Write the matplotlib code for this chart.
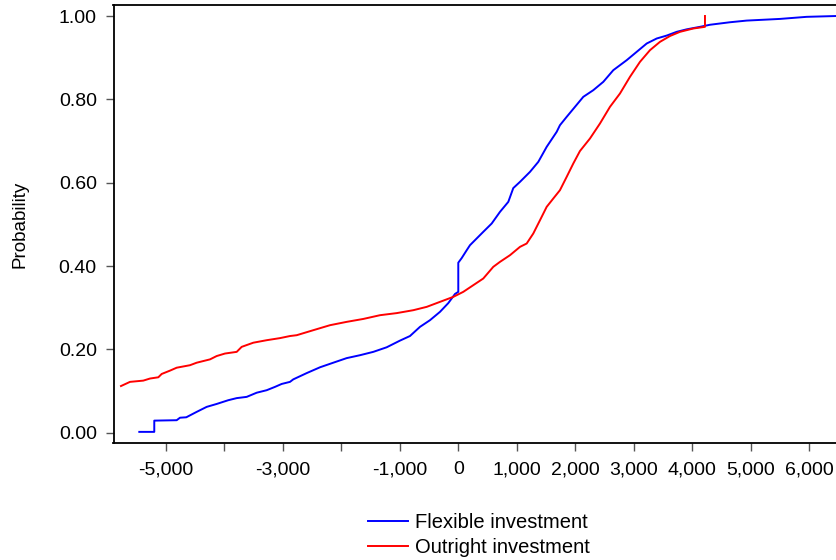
import matplotlib
matplotlib.use("Agg")
import matplotlib.pyplot as plt
from matplotlib.ticker import FixedLocator, FixedFormatter

plt.rcParams['font.family'] = ['Liberation Sans', 'DejaVu Sans']

# Empirical CDF of the investment outcome, flexible strategy
flex_x = [-5453, -5197, -5197, -4814, -4757, -4650, -4472, -4301, -4130, -3932,
          -3788, -3617, -3446, -3275, -3133, -3019, -2877, -2821, -2592, -2364,
          -2137, -1908, -1680, -1453, -1224, -997, -826, -655, -484, -313,
          -171, -56, 0, 0, 58, 144, 200, 285, 427, 571,
          713, 855, 940, 1055, 1226, 1368, 1511, 1682, 1738, 1853,
          1995, 2137, 2308, 2479, 2650, 2879, 3050, 3221, 3392, 3562,
          3733, 3904, 4132, 4303, 4644, 4930, 5499, 5955, 6468]
flex_p = [0.002, 0.002, 0.029, 0.030, 0.036, 0.037, 0.050, 0.062, 0.069, 0.078,
          0.083, 0.086, 0.096, 0.102, 0.110, 0.117, 0.122, 0.128, 0.143, 0.157,
          0.168, 0.179, 0.186, 0.194, 0.205, 0.221, 0.232, 0.254, 0.270, 0.290,
          0.311, 0.333, 0.338, 0.408, 0.419, 0.438, 0.450, 0.462, 0.482, 0.502,
          0.530, 0.554, 0.587, 0.602, 0.626, 0.650, 0.686, 0.722, 0.738, 0.758,
          0.782, 0.806, 0.822, 0.842, 0.870, 0.894, 0.914, 0.934, 0.946, 0.953,
          0.962, 0.968, 0.974, 0.979, 0.985, 0.989, 0.993, 0.998, 1.000]

# Empirical CDF of the investment outcome, outright strategy
out_x = [-5766, -5612, -5385, -5270, -5128, -5070, -4928, -4814, -4586, -4472,
         -4244, -4130, -3988, -3788, -3703, -3504, -3275, -3048, -2877, -2762,
         -2479, -2193, -1908, -1624, -1338, -1053, -769, -540, -313, -85,
         85, 256, 427, 598, 713, 884, 1055, 1169, 1282, 1397,
         1511, 1624, 1738, 1853, 1966, 2080, 2251, 2422, 2593, 2764,
         2935, 3106, 3277, 3448, 3619, 3790, 4017, 4217, 4217]
out_p = [0.112, 0.122, 0.125, 0.130, 0.133, 0.141, 0.149, 0.156, 0.162, 0.168,
         0.176, 0.184, 0.190, 0.194, 0.206, 0.216, 0.222, 0.227, 0.232, 0.234,
         0.246, 0.258, 0.266, 0.273, 0.282, 0.287, 0.294, 0.302, 0.314, 0.326,
         0.338, 0.354, 0.370, 0.398, 0.410, 0.426, 0.446, 0.454, 0.478, 0.510,
         0.542, 0.562, 0.582, 0.614, 0.646, 0.676, 0.706, 0.742, 0.782, 0.814,
         0.854, 0.890, 0.918, 0.938, 0.952, 0.962, 0.970, 0.974, 1.000]

x_ticks = [-5000, -4000, -3000, -2000, -1000, 0, 1000, 2000, 3000, 4000, 5000, 6000]
x_tick_labels = ['-5,000', '', '-3,000', '', '-1,000', '0', '1,000', '2,000',
                 '3,000', '4,000', '5,000', '6,000']
y_ticks = [0.0, 0.2, 0.4, 0.6, 0.8, 1.0]
y_tick_labels = ['0.00', '0.20', '0.40', '0.60', '0.80', '1.00']

W, H = 837, 560
fig = plt.figure(figsize=(W / 100, H / 100), dpi=100)
left, right, top, bottom = 113.5, 837.0, 5.0, 443.0
ax = fig.add_axes([left / W, 1 - bottom / H, (right - left) / W, (bottom - top) / H])

ax.plot(flex_x, flex_p, color='#0000ff', lw=1.4, label='Flexible investment')
ax.plot(out_x, out_p, color='#ff0000', lw=1.4, label='Outright investment')

ax.set_xlim(-5894, 6474)
ax.set_ylim(-0.0247, 1.0264)

ax.xaxis.set_major_locator(FixedLocator(x_ticks))
ax.xaxis.set_major_formatter(FixedFormatter(x_tick_labels))
ax.yaxis.set_major_locator(FixedLocator(y_ticks))
ax.yaxis.set_major_formatter(FixedFormatter(y_tick_labels))

ax.tick_params(axis='both', direction='out', length=5.5, width=1.0,
               color='#555555', labelsize=14)
ax.tick_params(axis='x', pad=7.5)
ax.tick_params(axis='y', pad=6.5)
ax.spines['right'].set_visible(False)
for s in ('left', 'bottom', 'top'):
    ax.spines[s].set_linewidth(1.3)
    ax.spines[s].set_color('black')

ax.set_ylabel('Probability', fontsize=13.5)
ax.yaxis.set_label_coords(-85.5 / (right - left), 0.5)

fig.legend(loc='center', bbox_to_anchor=(479 / W, 1 - 535 / H), frameon=False,
           fontsize=14.5, handlelength=2.0, handletextpad=0.35, labelspacing=0.28,
           borderpad=0)

fig.savefig('out.png', dpi=100)
